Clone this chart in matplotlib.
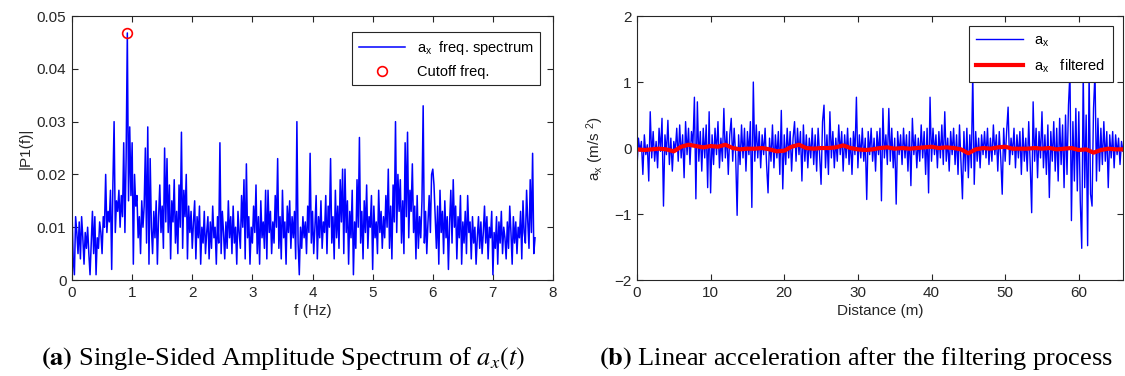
import numpy as np
import matplotlib
matplotlib.use('Agg')
import matplotlib.pyplot as plt

plt.rcParams['font.family'] = ['Liberation Sans', 'DejaVu Sans']
plt.rcParams['mathtext.fontset'] = 'custom'
plt.rcParams['mathtext.rm'] = 'Liberation Sans'
plt.rcParams['mathtext.it'] = 'Liberation Sans:italic'

# |P1(f)| spectrum, in units of 1e-3, step 0.02 Hz from 0 to 7.70 Hz
p1_milli = [
    13, 4, 1, 12, 9, 5, 11, 4, 12, 8, 3, 9, 6, 10, 5, 1, 7, 13, 5, 12,
    1, 8, 6, 11, 9, 5, 12, 10, 20, 9, 13, 11, 17, 2, 18, 30, 9, 15, 13, 17,
    10, 16, 12, 26, 9, 23, 46.8, 15, 29, 16, 26, 3, 20, 14, 16, 8, 12, 5, 15, 10,
    14, 25, 7, 29, 3, 23, 10, 5, 13, 8, 15, 3, 12, 18, 9, 14, 6, 25, 11, 23,
    9, 18, 4, 15, 11, 19, 7, 13, 5, 18, 10, 28, 6, 17, 12, 20, 4, 14, 9, 13,
    6, 11, 15, 4, 12, 8, 14, 3, 10, 7, 13, 5, 9, 12, 4, 11, 6, 14, 8, 10,
    3, 12, 7, 26, 5, 13, 9, 4, 11, 6, 15, 8, 12, 5, 14, 7, 10, 3, 13, 9,
    6, 16, 10, 19, 4, 22, 8, 12, 3, 10, 7, 14, 9, 18, 5, 12, 3, 15, 8, 11,
    6, 17, 4, 17, 9, 13, 5, 11, 7, 16, 10, 23, 6, 12, 4, 17, 8, 11, 3, 14,
    9, 15, 6, 12, 8, 13, 4, 30, 7, 1, 10, 6, 12, 8, 11, 5, 14, 9, 24, 7,
    13, 5, 10, 16, 4, 12, 8, 15, 6, 11, 9, 16, 5, 14, 10, 23, 7, 12, 4, 17,
    8, 14, 6, 19, 11, 21, 5, 21, 9, 15, 3, 13, 8, 17, 1, 11, 6, 19, 10, 27,
    7, 13, 4, 15, 9, 18, 6, 12, 10, 16, 2, 14, 8, 11, 5, 17, 9, 13, 6, 12,
    8, 16, 10, 21, 6, 14, 4, 18, 11, 30, 9, 20, 13, 19, 7, 15, 5, 26, 12, 28,
    8, 17, 13, 22, 9, 14, 4, 16, 6, 12, 8, 15, 33, 7, 13, 5, 11, 16, 9, 20,
    21, 18, 12, 6, 14, 3, 17, 9, 13, 5, 15, 8, 12, 2, 11, 17, 7, 19, 10, 14,
    4, 12, 8, 16, 3, 11, 7, 13, 5, 16, 9, 11, 4, 12, 7, 10, 3, 8, 12, 6,
    11, 5, 9, 14, 7, 12, 4, 10, 8, 13, 1, 9, 6, 12, 3, 11, 7, 13, 5, 10,
    8, 4, 11, 6, 14, 9, 3, 12, 7, 11, 5, 10, 8, 13, 4, 15, 9, 7, 17, 11,
    6, 19, 9, 24, 5, 8,
]
f_max = 7.70
cutoff_f = 0.92
cutoff_p1 = 0.0468

# raw a_x, in units of 1e-2 m/s^2, step 0.2 m from 0 to 66 m
ax_centi = [
    -30, 15, -5, 10, -40, 20, -10, 5, -50, 55, -15, 25, -20, 10, -30, 30, -5, 45, -88, 20,
    -10, 42, -25, 15, -35, 10, -5, 30, -20, 35, -15, 20, -45, 40, -10, 30, -25, 25, 5, 77,
    -77, 70, -20, 25, -35, 30, -15, 35, -60, 55, -68, 20, -25, 30, -10, 40, -30, 15, -20, 60,
    -15, 25, -40, 20, 45, -20, 30, -10, -102, 20, -25, 35, -15, 30, -35, 25, -10, 40, -90, 100,
    -20, 35, -15, 25, -30, 20, -10, 30, -25, -68, 15, -20, 35, -30, 20, -15, 25, -40, 57, -62,
    20, -25, 30, -15, 25, -35, 15, 40, -20, 30, -10, 25, -50, 35, -20, 20, -30, 15, -15, 30,
    -25, 20, -35, 30, -10, -55, 40, 65, -30, 20, -40, 55, -15, 25, -30, 15, -20, 35, -10, 25,
    -35, 20, -15, 30, -25, 15, -40, 25, -10, 77, -30, 20, -15, 30, -20, 15, -78, 25, -10, 30,
    -20, 15, -35, 25, -10, 30, -80, 60, -15, 20, -25, 60, -20, 30, -30, 15, -85, 25, -10, 20,
    -25, 30, -15, 20, -35, 25, -57, 45, -10, 20, -30, 15, -20, 35, -15, 25, -40, 30, -68, 77,
    -20, 30, -10, 20, -30, 25, -15, 35, -25, 55, -20, 15, -35, 25, -10, 30, -25, 20, -40, 35,
    -20, -77, 25, -35, 30, -45, 20, -30, 115, -55, 25, -20, 15, -30, 20, -10, 25, -15, 30, -25,
    15, -20, 35, -10, 20, -35, 25, -15, -70, 30, -20, 25, 62, -25, 15, -10, 30, -30, 20, -15,
    25, -40, 30, -20, 15, -35, 40, -25, -98, 70, -20, 30, -45, 25, -15, 55, -30, 20, -40, 35,
    -75, 25, -20, 40, -35, 30, -50, 45, -25, 35, -60, 50, -40, 65, 115, -110, 40, -50, 60, -65,
    55, -80, -152, 115, -60, 50, -148, 115, -70, -88, 60, 115, -50, 45, -35, 30, -25, 40, -20, 25,
    -60, 20, -15, 25, -30, 20, -10, 15, -25, 10, -5,
]
dist_max = 66.0

# filtered a_x, in units of 1e-2 m/s^2, every 1 m from 0 to 66 m
ax_filt_centi = [
    -2, -3, -2, -1, -2, -5, 2, 5, 3, 1, 3, 2, 5, 0, -2, -1, -1, 0, -2, -5,
    -4, 2, 5, 0, -1, 0, 0, 1, 4, 0, -2, -3, -2, 0, 1, -1, 0, -1, 0, 1,
    2, 0, 1, 0, -2, -8, -2, 0, -1, 1, 2, -1, -1, -1, 0, -1, 0, -2, -1, 0,
    -3, -2, -7, -3, -1, -2, -2,
]

p1 = np.array(p1_milli)/1000
freq = np.linspace(0, f_max, len(p1))
acc = np.array(ax_centi)/100
dist = np.linspace(0, dist_max, len(acc))
acc_filt = np.array(ax_filt_centi)/100
dist_filt = np.linspace(0, dist_max, len(acc_filt))

fig = plt.figure(figsize=(11.25, 3.76), dpi=100)
ax0 = fig.add_axes([0.064, 0.2553, 0.4276, 0.702])
ax1 = fig.add_axes([0.5662, 0.2553, 0.432, 0.702])

fs = 11
fs_leg = 10.5
for ax in (ax0, ax1):
    ax.tick_params(direction='in', top=True, right=True, labelsize=fs,
                   colors='0.15', length=4, width=0.8, pad=4)
    for s in ax.spines.values():
        s.set_color('0.15')
        s.set_linewidth(0.8)

# (a) spectrum
ax0.plot(freq, p1, color='#0000ff', lw=1.1, label=r'a$_{\mathrm{x}}$  freq. spectrum')
ax0.plot([cutoff_f], [cutoff_p1], 'o', mfc='none', mec='#ff0000', mew=1.2, ms=7,
         label='Cutoff freq.')
ax0.set_xlim(0, 8)
ax0.set_ylim(0, 0.05)
ax0.set_xticks(range(0, 9))
ax0.set_yticks([0, 0.01, 0.02, 0.03, 0.04, 0.05])
ax0.set_yticklabels(['0', '0.01', '0.02', '0.03', '0.04', '0.05'])
ax0.set_xlabel('f (Hz)', fontsize=fs, color='0.15', labelpad=3)
ax0.set_ylabel('|P1(f)|', fontsize=fs, color='0.15', labelpad=3)
leg0 = ax0.legend(loc='upper right', bbox_to_anchor=(0.973, 0.939), borderaxespad=0,
                  fontsize=fs_leg, fancybox=False, edgecolor='0.15', framealpha=1,
                  handlelength=3.2, borderpad=0.45, labelspacing=0.55)
leg0.get_frame().set_linewidth(0.8)

# (b) acceleration
ax1.plot(dist, acc, color='#0000ff', lw=1.0, label=r'a$_{\mathrm{x}}$')
ax1.plot(dist_filt, acc_filt, color='#ff0000', lw=3.0, label=r'a$_{\mathrm{x}}$   filtered')
ax1.set_xlim(0, dist_max)
ax1.set_ylim(-2, 2)
ax1.set_xticks(range(0, 70, 10))
ax1.set_yticks([-2, -1, 0, 1, 2])
ax1.set_xlabel('Distance (m)', fontsize=fs, color='0.15', labelpad=3)
ax1.set_ylabel(r'a$_{\mathrm{x}}$ (m/s $^{2}$)', fontsize=fs, color='0.15', labelpad=6)
leg1 = ax1.legend(loc='upper right', bbox_to_anchor=(0.979, 0.962), borderaxespad=0,
                  fontsize=fs_leg, fancybox=False, edgecolor='0.15', framealpha=1,
                  handlelength=3.2, borderpad=0.5, labelspacing=0.6)
leg1.get_frame().set_linewidth(0.8)

# captions under each panel
fig.text(283/1125, 1-358/376, r'$\mathbf{(a)}$ Single-Sided Amplitude Spectrum of $a_x(t)$',
         ha='center', va='center', fontsize=19, family='Liberation Serif', math_fontfamily='stix')
fig.text(856/1125, 1-358/376, r'$\mathbf{(b)}$ Linear acceleration after the filtering process',
         ha='center', va='center', fontsize=19, family='Liberation Serif', math_fontfamily='stix')

fig.savefig('out.png', dpi=100)
